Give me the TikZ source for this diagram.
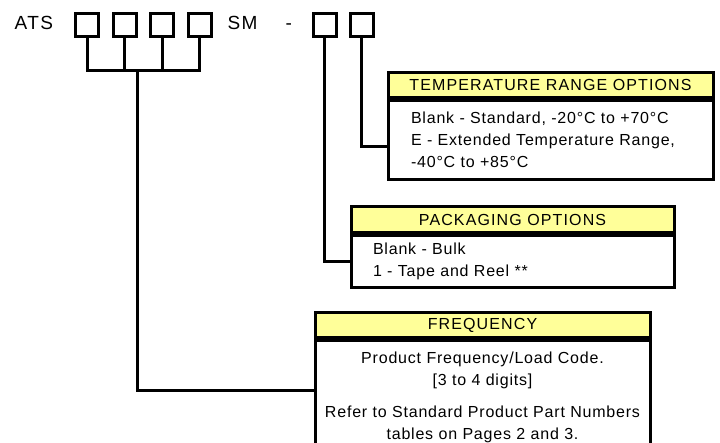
\documentclass[tikz,border=0pt]{standalone}
\usepackage{fontspec}
\setmainfont{Liberation Sans}[LetterSpace=5]
\newfontfamily\hdrfont{Liberation Sans}[LetterSpace=7]
\newfontfamily\bigfont{Liberation Sans}[LetterSpace=8]
\definecolor{hdryellow}{RGB}{255,255,153}
\begin{document}
\begin{tikzpicture}[x=1pt,y=-1pt,line width=3pt,
  dbox/.style={draw,rectangle,minimum width=23pt,minimum height=23pt,inner sep=0pt},
  hdr/.style={draw,rectangle,fill=hdryellow,anchor=north west,inner sep=0pt,
    font=\hdrfont\fontsize{16}{18}\selectfont},
  body/.style={draw,rectangle,fill=white,anchor=north,inner sep=0pt,
    font=\fontsize{16}{22}\selectfont},
  big/.style={font=\bigfont\fontsize{19}{22}\selectfont,inner sep=0pt,anchor=base west}]
\useasboundingbox (0,0) rectangle (720,443);
% part number
\node[big] (ats) at (13,30) {ATS};
\node[dbox] (d1) at (87,25) {};
\node[dbox] (d2) at (124.5,25) {};
\node[dbox] (d3) at (162,25) {};
\node[dbox] (d4) at (199.5,25) {};
\node[big] (sm) at (226,30) {SM};
\node[big] (dash) at (284,30) {-};
\node[dbox] (d5) at (324.5,25) {};
\node[dbox] (d6) at (361.5,25) {};
\coordinate (bar) at (0,71);
\coordinate (j) at (137,71);
% temperature
\node[hdr,minimum width=325pt,minimum height=24.5pt] (th) at (386.5,71.5) {TEMPERATURE RANGE OPTIONS};
\node[body,minimum width=325pt,minimum height=79.5pt,text width=279pt,align=left] (tb) at (th.south)
  {Blank - Standard, -20°C to +70°C\\E - Extended Temperature Range,\\-40°C to +85°C};
% packaging
\node[hdr,minimum width=323pt,minimum height=25.5pt] (ph) at (349.5,205.5) {PACKAGING OPTIONS};
\node[body,minimum width=323pt,minimum height=52.5pt,text width=279pt,align=left] (pb) at (ph.south)
  {Blank - Bulk\\1 - Tape and Reel **};
% frequency
\node[hdr,minimum width=335pt,minimum height=24.5pt] (fh) at (313.5,311.5) {FREQUENCY};
\node[body,minimum width=335pt,minimum height=114pt,text width=330pt,align=center] (fb) at (fh.south)
  {Product Frequency/Load Code.\\{}[3 to 4 digits]\\[10pt]Refer to Standard Product Part Numbers\\tables on Pages 2 and 3.};
% connectors
\draw (d1.south) |- (bar -| d4.south) -- (d4.south);
\draw (d2.south) -- (d2.south |- bar);
\draw (d3.south) -- (d3.south |- bar);
\draw (j) |- (fb.west |- 0,390);
\draw (d5.south) |- (pb.west);
\draw (d6.south) |- (tb.west |- 0,147);
\end{tikzpicture}
\end{document}
